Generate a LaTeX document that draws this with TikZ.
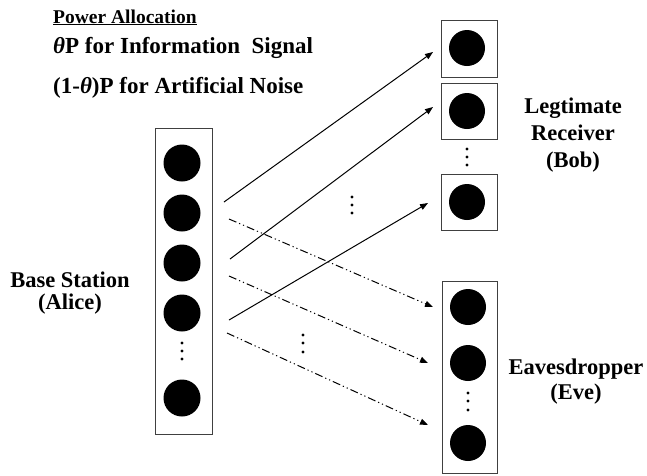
\documentclass[tikz,border=0pt]{standalone}
\usepackage{fontspec}
\setmainfont{Liberation Serif}
\usetikzlibrary{arrows.meta}
\tikzset{
  antbox/.style={draw=black!75,line width=1pt,minimum width=56pt,inner sep=0pt},
  ant/.style={circle,fill=black,minimum size=37pt,inner sep=0pt},
  dotc/.style={circle,fill=black,minimum size=3.2pt,inner sep=0pt},
  lbl/.style={font=\fontsize{23}{23}\selectfont\bfseries,inner sep=0pt},
  sig/.style={line width=1pt,-{Triangle[length=8pt,width=6pt]}},
  noise/.style={sig,dash pattern=on 8pt off 3pt on 1.2pt off 3pt on 1.2pt off 3pt}
}
\begin{document}
\begin{tikzpicture}[x=1pt,y=-1pt]
  \useasboundingbox (0,0) rectangle (647,475);
  % power allocation
  \node[lbl,anchor=base west,font=\fontsize{19.5}{20}\selectfont\bfseries] (pa) at (53,23) {\underline{Power Allocation}};
  \node[lbl,anchor=base west] (pi) at (53,53) {\textit{θ}P for Information~ Signal};
  \node[lbl,anchor=base west] (pn) at (53,93) {(1-\textit{θ})P for Artificial Noise};
  % base station
  \node[antbox,minimum width=57pt,minimum height=306pt] (bs) at (183.5,281) {};
  \node[ant] (a1) at (182,163) {};
  \node[ant] (a2) at (182,213) {};
  \node[ant] (a3) at (182,263) {};
  \node[ant] (a4) at (182,313) {};
  \node[ant] (a5) at (182,398) {};
  \foreach \y in {343,351,359} \node[dotc] at (182,\y) {};
  \node[lbl,align=center,font=\fontsize{22.5}{22}\selectfont\bfseries] (bsl) at (70,293) {Base Station\\(Alice)};
  % bob
  \node[antbox,minimum height=57pt] (bb1) at (469,48.5) {};
  \node[antbox,minimum height=56pt] (bb2) at (469,111) {};
  \node[antbox,minimum height=56pt] (bb3) at (469,202) {};
  \node[ant,minimum size=36pt] (b1) at (467,48) {};
  \node[ant,minimum size=36pt] (b2) at (467,111) {};
  \node[ant,minimum size=36pt] (b3) at (467,202) {};
  \foreach \y in {149,157,165} \node[dotc] at (467,\y) {};
  \node[lbl,align=center,font=\fontsize{22.5}{27}\selectfont\bfseries] (bobl) at (573,135) {Legtimate\\Receiver\\(Bob)};
  % eve
  \node[antbox,minimum width=55pt,minimum height=192pt] (eb) at (469.5,377) {};
  \node[ant,minimum size=36pt] (e1) at (468,307) {};
  \node[ant,minimum size=36pt] (e2) at (468,363) {};
  \node[ant,minimum size=36pt] (e3) at (468,443) {};
  \foreach \y in {393,401,410} \node[dotc] at (468,\y) {};
  \node[lbl,align=center,font=\fontsize{22.5}{25}\selectfont\bfseries] (evel) at (576,382) {Eavesdropper\\(Eve)};
  % links
  \coordinate (s1) at (224,202); \coordinate (t1) at (433,52);
  \coordinate (s2) at (230,259); \coordinate (t2) at (433,107);
  \coordinate (s3) at (229,320); \coordinate (t3) at (428,203);
  \coordinate (n1) at (229,219); \coordinate (u1) at (433,307);
  \coordinate (n2) at (229,276); \coordinate (u2) at (428,363);
  \coordinate (n3) at (227,333); \coordinate (u3) at (428,425);
  \draw[sig] (s1) -- (t1);
  \draw[sig] (s2) -- (t2);
  \draw[sig] (s3) -- (t3);
  \draw[noise] (n1) -- (u1);
  \draw[noise] (n2) -- (u2);
  \draw[noise] (n3) -- (u3);
  \foreach \y in {197,205,213} \node[dotc] at (352,\y) {};
  \foreach \y in {335,343,352} \node[dotc] at (303,\y) {};
\end{tikzpicture}
\end{document}
